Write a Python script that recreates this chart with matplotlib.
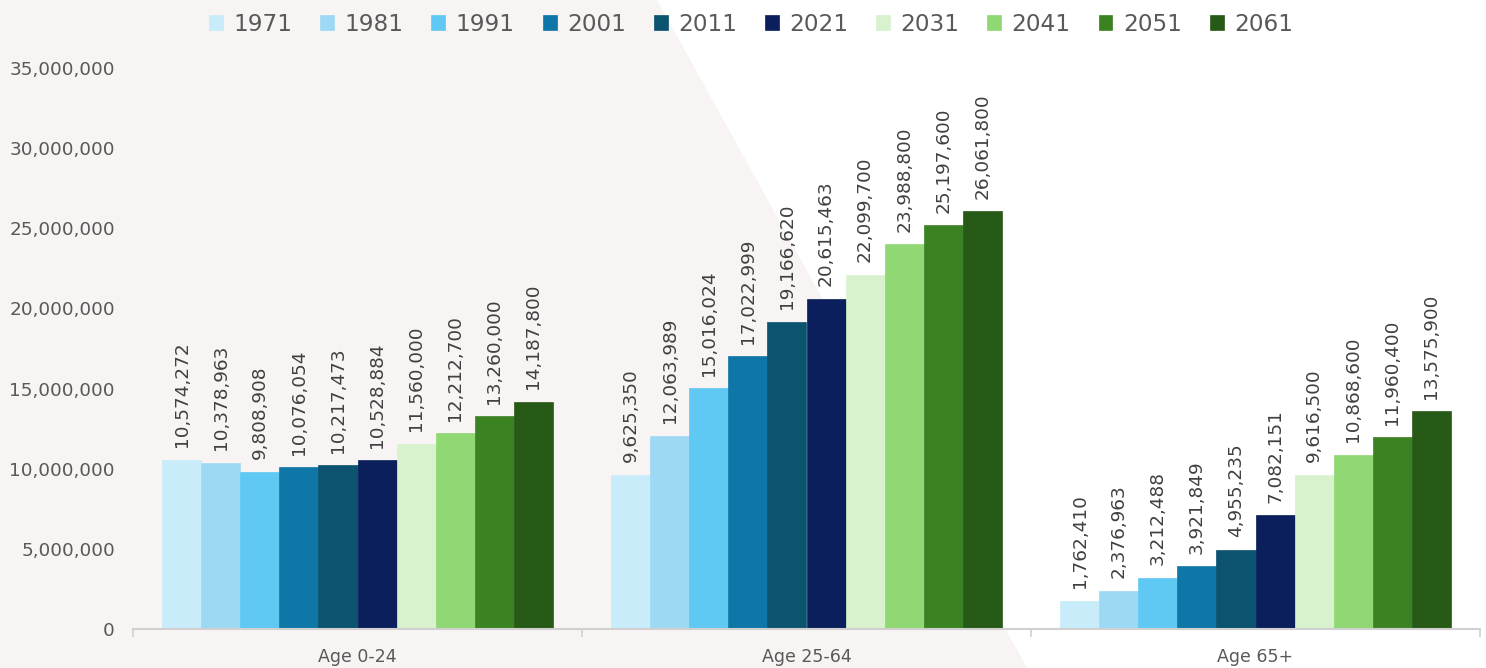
import numpy as np
import matplotlib.pyplot as plt
from matplotlib.patches import Polygon

# data
groups = ["Age 0-24", "Age 25-64", "Age 65+"]
years = ["1971", "1981", "1991", "2001", "2011", "2021", "2031", "2041", "2051", "2061"]
age_0_24 = [10574272, 10378963, 9808908, 10076054, 10217473, 10528884,
            11560000, 12212700, 13260000, 14187800]
age_25_64 = [9625350, 12063989, 15016024, 17022999, 19166620, 20615463,
             22099700, 23988800, 25197600, 26061800]
age_65p = [1762410, 2376963, 3212488, 3921849, 4955235, 7082151,
           9616500, 10868600, 11960400, 13575900]
colors = ["#c9ecfa", "#9dd9f5", "#5fc9f3", "#0f77a8", "#0b536f",
          "#0a1f5b", "#d7f2cd", "#8fd873", "#3b8223", "#285a17"]

values = np.array([age_0_24, age_25_64, age_65p])  # groups x years

W, H = 1486, 668
fig = plt.figure(figsize=(W / 100, H / 100), dpi=100)
fig.patch.set_facecolor("white")

# light diagonal background panel
bg = Polygon([(0, 1), (657 / W, 1), (1027 / W, 0), (0, 0)], closed=True,
             transform=fig.transFigure, facecolor="#f7f4f3", edgecolor="none", zorder=-10)
fig.patches.append(bg)

ax = fig.add_axes([133 / W, 1 - 629 / H, (1480 - 133) / W, (629 - 68) / H])
ax.set_facecolor("none")

x = np.arange(len(groups))
n = len(years)
total = 0.87
bw = total / n
for i, yr in enumerate(years):
    pos = x - total / 2 + bw * (i + 0.5)
    bars = ax.bar(pos, values[:, i], width=bw, color=colors[i], label=yr,
                  edgecolor=colors[i], linewidth=0.5, zorder=2)
    ax.bar_label(bars, labels=[f"{v:,.0f}" for v in values[:, i]], rotation=90,
                 padding=9, fontsize=13.3, color="#404040")

ax.set_xlim(-0.5, len(groups) - 0.5)
ax.set_ylim(0, 35000000)
ax.set_yticks(np.arange(0, 35000001, 5000000))
ax.yaxis.set_major_formatter(plt.FuncFormatter(lambda v, p: f"{v:,.0f}"))
ax.tick_params(axis="y", length=0, pad=13, labelsize=13.3, labelcolor="#595959")

# category boundaries as ticks, labels as minor ticks
ax.set_xticks(np.arange(-0.5, len(groups), 1.0))
ax.set_xticklabels([])
ax.set_xticks(x, minor=True)
ax.set_xticklabels(groups, minor=True)
ax.tick_params(axis="x", which="major", length=6, color="#d0d0d0", width=1.2)
ax.tick_params(axis="x", which="minor", length=0, pad=14, labelsize=12.5,
               labelcolor="#595959")

for s in ["top", "right", "left"]:
    ax.spines[s].set_visible(False)
ax.spines["bottom"].set_color("#d0d0d0")
ax.spines["bottom"].set_linewidth(1.5)

fig.legend(loc="upper center", bbox_to_anchor=(751 / W, 1.012), ncol=n, frameon=False,
           fontsize=16.7, labelcolor="#595959", handlelength=0.6, handleheight=0.6,
           handletextpad=0.45, columnspacing=1.2)

fig.savefig("out.png", dpi=100)
